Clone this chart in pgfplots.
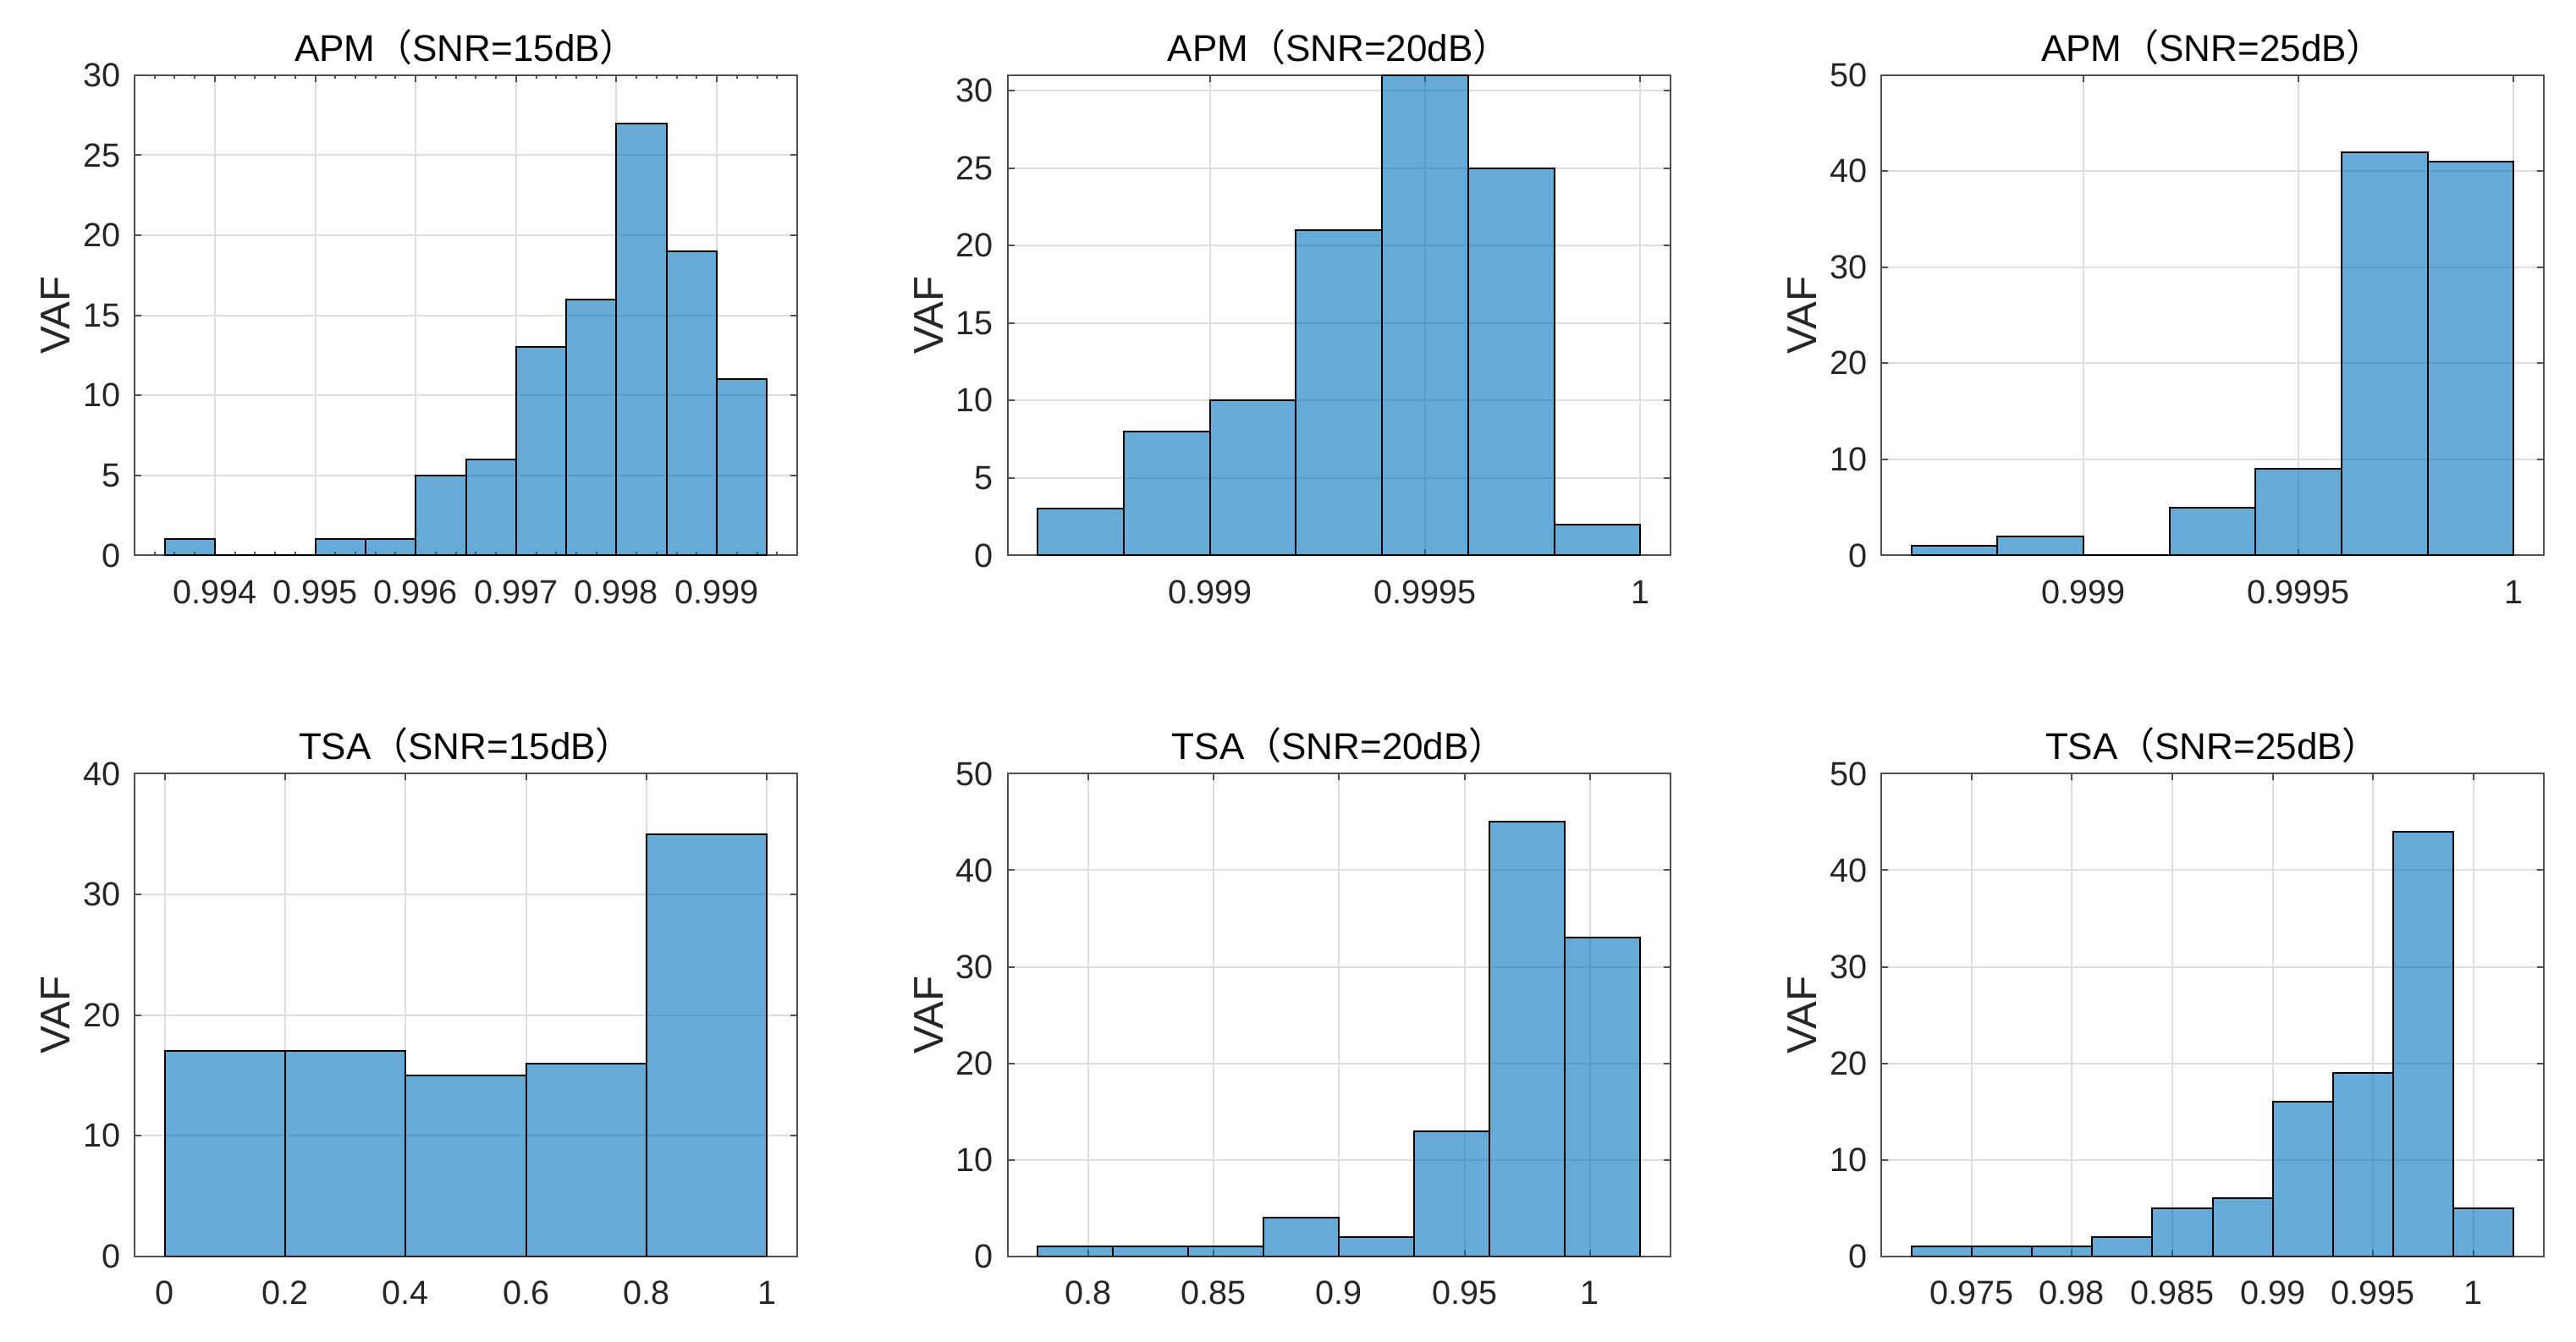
\documentclass[border=0pt]{standalone}
\usepackage{fontspec}
\setmainfont{Liberation Sans}
\newfontfamily\cjk{Noto Sans CJK SC}
\usepackage{pgfplots}
\pgfplotsset{compat=1.18}
\definecolor{matblue}{rgb}{0,0.447,0.741}
\definecolor{axgray}{RGB}{80,80,80}
\definecolor{gridgray}{RGB}{222,222,222}
\definecolor{ticktext}{RGB}{38,38,38}
\newcommand{\lp}{{\cjk （}}
\newcommand{\rp}{{\cjk ）}}
\pgfplotsset{
  hist/.style={
    scale only axis, width=195.75bp,
    axis line style={draw=axgray, line width=0.5bp},
    every tick/.style={draw=axgray, line width=0.5bp},
    tick align=inside,
    major tick length=1.96bp, minor tick length=1bp,
    grid=major, grid style={draw=gridgray, line width=0.5bp},
    ymin=0,
    /pgf/number format/assume math mode=true,
    tick label style={font=\fontsize{9.9bp}{11bp}\selectfont, text=ticktext},
    xticklabel style={anchor=base, inner sep=0pt, yshift=-14.2bp},
    yticklabel style={anchor=east, inner sep=0pt, xshift=-4bp},
    title style={font=\fontsize{11bp}{12bp}\selectfont, at={(0.5,1)}, anchor=base, yshift=-1.8bp, inner sep=0pt},
    ylabel={VAF},
    ylabel style={font=\fontsize{12.3bp}{14bp}\selectfont, text=ticktext, at={(axis description cs:-0.0971,0.5)}, anchor=base, inner sep=0pt},
  },
  bars/.style={ybar interval, fill=matblue, fill opacity=0.6, draw=black, line width=0.5bp},
}
\begin{document}
\begin{tikzpicture}
\useasboundingbox (0bp,0bp) rectangle (761bp,396.5bp);
% ---- APM 15 dB
\begin{axis}[hist, at={(39.75bp,232.4bp)}, anchor=south west, height=141.9bp,
  xmin=0.9932, xmax=0.9998, ymax=30,
  xtick={0.994,0.995,0.996,0.997,0.998,0.999},
  xticklabels={0.994,0.995,0.996,0.997,0.998,0.999},
  minor xtick={0.9934,0.9936,0.9938,0.9942,0.9944,0.9946,0.9948,0.9952,0.9954,0.9956,0.9958,0.9962,0.9964,0.9966,0.9968,0.9972,0.9974,0.9976,0.9978,0.9982,0.9984,0.9986,0.9988,0.9992,0.9994,0.9996},
  ytick={0,5,10,15,20,25,30},
  title={APM\lp SNR=15dB\rp}]
\addplot[bars] coordinates {(0.9935,1) (0.994,0) (0.9945,0) (0.995,1) (0.9955,1) (0.996,5) (0.9965,6) (0.997,13) (0.9975,16) (0.998,27) (0.9985,19) (0.999,11) (0.9995,0)};
\end{axis}
% ---- APM 20 dB
\begin{axis}[hist, at={(297.7bp,232.4bp)}, anchor=south west, height=141.9bp,
  xmin=0.99853, xmax=1.00007, ymax=31,
  xtick={0.999,0.9995,1}, xticklabels={0.999,0.9995,1},
  ytick={0,5,10,15,20,25,30},
  title={APM\lp SNR=20dB\rp}]
\addplot[bars] coordinates {(0.9986,3) (0.9988,8) (0.999,10) (0.9992,21) (0.9994,31) (0.9996,25) (0.9998,2) (1.0,0)};
\end{axis}
% ---- APM 25 dB
\begin{axis}[hist, at={(555.75bp,232.4bp)}, anchor=south west, height=141.9bp,
  xmin=0.99853, xmax=1.00007, ymax=50,
  xtick={0.999,0.9995,1}, xticklabels={0.999,0.9995,1},
  ytick={0,10,20,30,40,50},
  title={APM\lp SNR=25dB\rp}]
\addplot[bars] coordinates {(0.9986,1) (0.9988,2) (0.999,0) (0.9992,5) (0.9994,9) (0.9996,42) (0.9998,41) (1.0,0)};
\end{axis}
% ---- TSA 15 dB
\begin{axis}[hist, at={(39.75bp,25.3bp)}, anchor=south west, height=142.6bp,
  xmin=-0.05, xmax=1.05, ymax=40,
  xtick={0,0.2,0.4,0.6,0.8,1}, xticklabels={0,0.2,0.4,0.6,0.8,1},
  ytick={0,10,20,30,40},
  title={TSA\lp SNR=15dB\rp}]
\addplot[bars] coordinates {(0,17) (0.2,17) (0.4,15) (0.6,16) (0.8,35) (1.0,0)};
\end{axis}
% ---- TSA 20 dB
\begin{axis}[hist, at={(297.7bp,25.3bp)}, anchor=south west, height=142.6bp,
  xmin=0.768, xmax=1.032, ymax=50,
  xtick={0.8,0.85,0.9,0.95,1}, xticklabels={0.8,0.85,0.9,0.95,1},
  ytick={0,10,20,30,40,50},
  title={TSA\lp SNR=20dB\rp}]
\addplot[bars] coordinates {(0.78,1) (0.81,1) (0.84,1) (0.87,4) (0.90,2) (0.93,13) (0.96,45) (0.99,33) (1.02,0)};
\end{axis}
% ---- TSA 25 dB
\begin{axis}[hist, at={(555.75bp,25.3bp)}, anchor=south west, height=142.6bp,
  xmin=0.9705, xmax=1.0035, ymax=50,
  xtick={0.975,0.98,0.985,0.99,0.995,1}, xticklabels={0.975,0.98,0.985,0.99,0.995,1},
  ytick={0,10,20,30,40,50},
  title={TSA\lp SNR=25dB\rp}]
\addplot[bars] coordinates {(0.972,1) (0.975,1) (0.978,1) (0.981,2) (0.984,5) (0.987,6) (0.990,16) (0.993,19) (0.996,44) (0.999,5) (1.002,0)};
\end{axis}
\end{tikzpicture}
\end{document}
